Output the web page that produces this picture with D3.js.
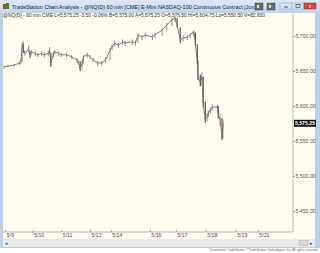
<!DOCTYPE html>
<html>
<head>
<meta charset="utf-8">
<script src="https://cdnjs.cloudflare.com/ajax/libs/d3/7.8.5/d3.min.js"></script>
<style>
  body { margin: 0; background: #ffffff; }
  svg { display: block; font-family: "Liberation Sans", "DejaVu Sans", sans-serif; }
</style>
</head>
<body>
<div id="chart"></div>
<script>
// bar index (60 min bars), close, high and low at that bar
var barIndex = [0, 3, 8, 12, 13, 14, 14.6, 15, 16, 19, 20, 21, 24, 26, 29, 31, 34, 35, 36, 38, 39, 42, 44, 48, 52, 56, 57, 58.5, 60, 61, 64, 66, 68.5, 72, 75, 78, 81.5, 83, 85, 88, 91, 93, 98.5, 101, 103, 106, 108.5, 114, 116, 121.5, 125, 129, 131.5, 133, 135.4, 137.7, 140.8, 143, 145.4, 146, 147, 148.5, 149, 150.8, 152, 153, 154.6, 156, 157, 158.5, 160, 164, 164.6, 166, 167.5, 168.3];
var prices = [5655.75, 5657, 5658.5, 5661.5, 5664, 5687, 5690, 5680, 5675, 5682, 5673, 5677.5, 5675, 5673, 5675, 5673, 5675, 5680, 5661, 5675, 5677.5, 5675, 5673, 5673, 5670.5, 5665.75, 5663, 5654, 5661, 5670.5, 5673, 5670.5, 5665.75, 5661.5, 5661.5, 5665.75, 5680, 5684.25, 5690, 5687, 5691.5, 5690, 5691.5, 5690, 5701.5, 5698.5, 5701.5, 5698.5, 5701.5, 5708.5, 5715.75, 5723, 5725.75, 5715.75, 5694.25, 5697, 5698.5, 5701.5, 5705.75, 5704.25, 5690, 5663, 5641.5, 5633, 5641.5, 5604.25, 5580, 5584.25, 5590, 5594.25, 5598.5, 5598.5, 5587, 5580, 5554.25, 5575.25];
var highs = [5658, 5659, 5660, 5663, 5668, 5690, 5693, 5686, 5679, 5686, 5678, 5680, 5679, 5676, 5678, 5677, 5678, 5684, 5676, 5678, 5680, 5678, 5676, 5676, 5673, 5669, 5666, 5664, 5666, 5673, 5676, 5673, 5669, 5664, 5664, 5670, 5683, 5688, 5693, 5690, 5695, 5693, 5695, 5693, 5704, 5702, 5705, 5702, 5704, 5712, 5719, 5726, 5727, 5726, 5712, 5701, 5702, 5704, 5708, 5707, 5705, 5688, 5665, 5645, 5648, 5642, 5606, 5590, 5594, 5598, 5602, 5602, 5600, 5590, 5583, 5580];
var lows = [5653, 5655, 5656, 5659, 5660, 5663, 5683, 5676, 5672, 5676, 5669, 5673, 5671, 5670, 5671, 5669, 5671, 5674, 5656, 5670, 5673, 5671, 5670, 5670, 5667, 5662, 5659, 5650, 5652, 5660, 5669, 5667, 5662, 5657, 5658, 5661, 5665, 5680, 5685, 5683, 5687, 5686, 5687, 5686, 5690, 5694, 5697, 5694, 5697, 5700, 5708, 5714, 5720, 5712, 5690, 5692, 5694, 5697, 5701, 5699, 5686, 5660, 5637, 5628, 5630, 5598, 5576, 5578, 5584, 5589, 5593, 5592, 5582, 5572, 5551, 5554];

var dateLabels = ["5/9", "5/10", "5/11", "5/12", "5/14", "5/16", "5/17", "5/18", "5/19", "5/21"];
var dateTicks = [1, 22, 44, 66, 82, 112, 132, 155, 178, 195];
var priceTicks = [5450, 5500, 5550, 5600, 5650, 5700];
var lastPrice = 5575.25;

var titleText = "TradeStation Chart Analysis - @NQ(D) 60 min [CME] E-Mini NASDAQ-100 Continuous Contract [Jun17]";
var infoText = "@NQ(D) - 60 min  CME  L=5,575.25  -3.50  -0.06%  B=5,575.00  A=5,575.25  O=5,575.50  Hi=5,604.75  Lo=5,550.50  V=82,830";
var footerText = "Created with TradeStation. \u00a9TradeStation Technologies, Inc. All rights reserved.";

var svgWidth = 320;
var svgHeight = 253;

var plot = { left: 4, right: 293, top: 18, bottom: 231 };

var svg = d3.select("#chart")
  .append("svg")
  .attr("width", svgWidth)
  .attr("height", svgHeight);

// window frame
var defs = svg.append("defs");
var grad = defs.append("linearGradient")
  .attr("id", "titleGrad")
  .attr("x1", 0).attr("y1", 0).attr("x2", 0).attr("y2", 1);
grad.append("stop").attr("offset", "0%").attr("stop-color", "#dfe9f6");
grad.append("stop").attr("offset", "100%").attr("stop-color", "#bfd3ec");

svg.append("rect")
  .attr("x", 0).attr("y", 0)
  .attr("width", 320).attr("height", 248)
  .attr("fill", "#b9cfea");

svg.append("rect")
  .attr("x", 0).attr("y", 0)
  .attr("width", 320).attr("height", 13)
  .attr("fill", "url(#titleGrad)");

// title icon
svg.append("rect").attr("x", 3).attr("y", 4).attr("width", 3).attr("height", 5).attr("fill", "#d04020");
svg.append("rect").attr("x", 6).attr("y", 3).attr("width", 3).attr("height", 6).attr("fill", "#3a8a30");

svg.append("text")
  .attr("x", 12).attr("y", 8.5)
  .attr("font-size", 5.6)
  .attr("fill", "#1e2a3a")
  .attr("textLength", 250)
  .attr("lengthAdjust", "spacingAndGlyphs")
  .text(titleText);

// title buttons
[[255, "#6d6d6d"], [267, "#6d6d6d"]].forEach(function(b) {
  svg.append("rect").attr("x", b[0]).attr("y", 3).attr("width", 8).attr("height", 7)
    .attr("fill", b[1]).attr("stroke", "#444").attr("stroke-width", 0.5);
  svg.append("rect").attr("x", b[0] + 2).attr("y", 5).attr("width", 2).attr("height", 3).attr("fill", "#ddd");
});
svg.append("rect").attr("x", 280).attr("y", 3).attr("width", 12).attr("height", 6)
  .attr("fill", "#d6e2f2").attr("stroke", "#8aa4c8").attr("stroke-width", 0.5);
svg.append("rect").attr("x", 292).attr("y", 3).attr("width", 12).attr("height", 6)
  .attr("fill", "#d6e2f2").attr("stroke", "#8aa4c8").attr("stroke-width", 0.5);
svg.append("rect").attr("x", 304).attr("y", 3).attr("width", 12).attr("height", 6)
  .attr("fill", "#d9473a").attr("stroke", "#9a3028").attr("stroke-width", 0.5);
svg.append("line").attr("x1", 284).attr("x2", 288).attr("y1", 7).attr("y2", 7).attr("stroke", "#333").attr("stroke-width", 0.8);
svg.append("rect").attr("x", 296).attr("y", 4.5).attr("width", 4).attr("height", 3).attr("fill", "none").attr("stroke", "#333").attr("stroke-width", 0.6);
svg.append("text").attr("x", 310).attr("y", 8).attr("font-size", 5).attr("text-anchor", "middle").attr("fill", "#fff").text("x");

// chart area
svg.append("rect")
  .attr("x", 3).attr("y", 13)
  .attr("width", 312).attr("height", 226)
  .attr("fill", "#fffcf0");

// scrollbar
svg.append("rect")
  .attr("x", 3).attr("y", 239)
  .attr("width", 312).attr("height", 8)
  .attr("fill", "#e9e9e9");
svg.append("text").attr("x", 5).attr("y", 245).attr("font-size", 5).attr("fill", "#555").text("\u25c2");
svg.append("text").attr("x", 310).attr("y", 245).attr("font-size", 5).attr("fill", "#555").text("\u25b8");
svg.append("rect").attr("x", 299).attr("y", 240.5).attr("width", 9).attr("height", 5)
  .attr("fill", "#d8d8d8").attr("stroke", "#aaa").attr("stroke-width", 0.5);

// footer
svg.append("rect").attr("x", 0).attr("y", 248).attr("width", 320).attr("height", 5).attr("fill", "#ffffff");
svg.append("text")
  .attr("x", 318).attr("y", 251.3)
  .attr("text-anchor", "end")
  .attr("font-size", 3.1)
  .attr("fill", "#666")
  .text(footerText);

// info line
svg.append("text")
  .attr("x", 3).attr("y", 17)
  .attr("font-size", 5)
  .attr("fill", "#333")
  .attr("textLength", 262)
  .attr("lengthAdjust", "spacingAndGlyphs")
  .text(infoText);

// scales
var xScale = d3.scaleLinear()
  .domain([0, 222])
  .range([plot.left, plot.right]);

var yScale = d3.scaleLinear()
  .domain([5421.4, 5725.7])
  .range([plot.bottom, plot.top]);

// right axis
var rightAxis = d3.axisRight(yScale)
  .tickValues(priceTicks)
  .tickSize(2)
  .tickPadding(0.5)
  .tickFormat(d3.format(",.2f"));

var gy = svg.append("g")
  .attr("transform", "translate(" + plot.right + ",0)")
  .call(rightAxis);
gy.select(".domain").remove();
gy.selectAll("line").attr("stroke", "#999");
gy.selectAll("text").attr("font-size", 5.2).attr("fill", "#555").attr("font-family", "Liberation Sans, sans-serif");

svg.append("line")
  .attr("x1", plot.right).attr("x2", plot.right)
  .attr("y1", 13).attr("y2", 232)
  .attr("stroke", "#a6a6a6").attr("stroke-width", 0.8);

// bottom axis
var bottomAxis = d3.axisBottom(xScale)
  .tickValues(dateTicks)
  .tickSize(-2)
  .tickFormat(function(d, i) { return dateLabels[i]; });

var gx = svg.append("g")
  .attr("transform", "translate(0," + 232 + ")")
  .call(bottomAxis);
gx.select(".domain").remove();
gx.selectAll("line").attr("stroke", "#999");
gx.selectAll("text")
  .attr("font-size", 5.2)
  .attr("fill", "#555")
  .attr("text-anchor", "start")
  .attr("dx", 1)
  .attr("y", 1.5)
  .attr("dy", "0.71em");

svg.append("line")
  .attr("x1", 3).attr("x2", plot.right)
  .attr("y1", 232).attr("y2", 232)
  .attr("stroke", "#a6a6a6").attr("stroke-width", 0.8);

// high-low bars
svg.append("g").selectAll("line")
  .data(prices)
  .enter()
  .append("line")
  .attr("x1", function(d, i) { return xScale(barIndex[i]); })
  .attr("x2", function(d, i) { return xScale(barIndex[i]); })
  .attr("y1", function(d, i) { return yScale(highs[i]); })
  .attr("y2", function(d, i) { return yScale(lows[i]); })
  .attr("stroke", function(d, i) { return i > 0 && d < prices[i - 1] - 8 ? "#222" : "#8a8a8a"; })
  .attr("stroke-width", 0.9);

// close line
var line = d3.line()
  .x(function(d, i) { return xScale(barIndex[i]); })
  .y(function(d) { return yScale(d); });

svg.append("path")
  .datum(prices)
  .attr("d", line)
  .attr("fill", "none")
  .attr("stroke", "#707070")
  .attr("stroke-width", 0.9);

// last price marker
var lastY = yScale(lastPrice);
svg.append("rect")
  .attr("x", plot.right + 1).attr("y", lastY - 3.5)
  .attr("width", 22).attr("height", 7)
  .attr("fill", "#111");
svg.append("text")
  .attr("x", plot.right + 12).attr("y", lastY + 2)
  .attr("text-anchor", "middle")
  .attr("font-size", 5.2)
  .attr("font-weight", "bold")
  .attr("fill", "#fff")
  .text(d3.format(",.2f")(lastPrice));
</script>
</body>
</html>
